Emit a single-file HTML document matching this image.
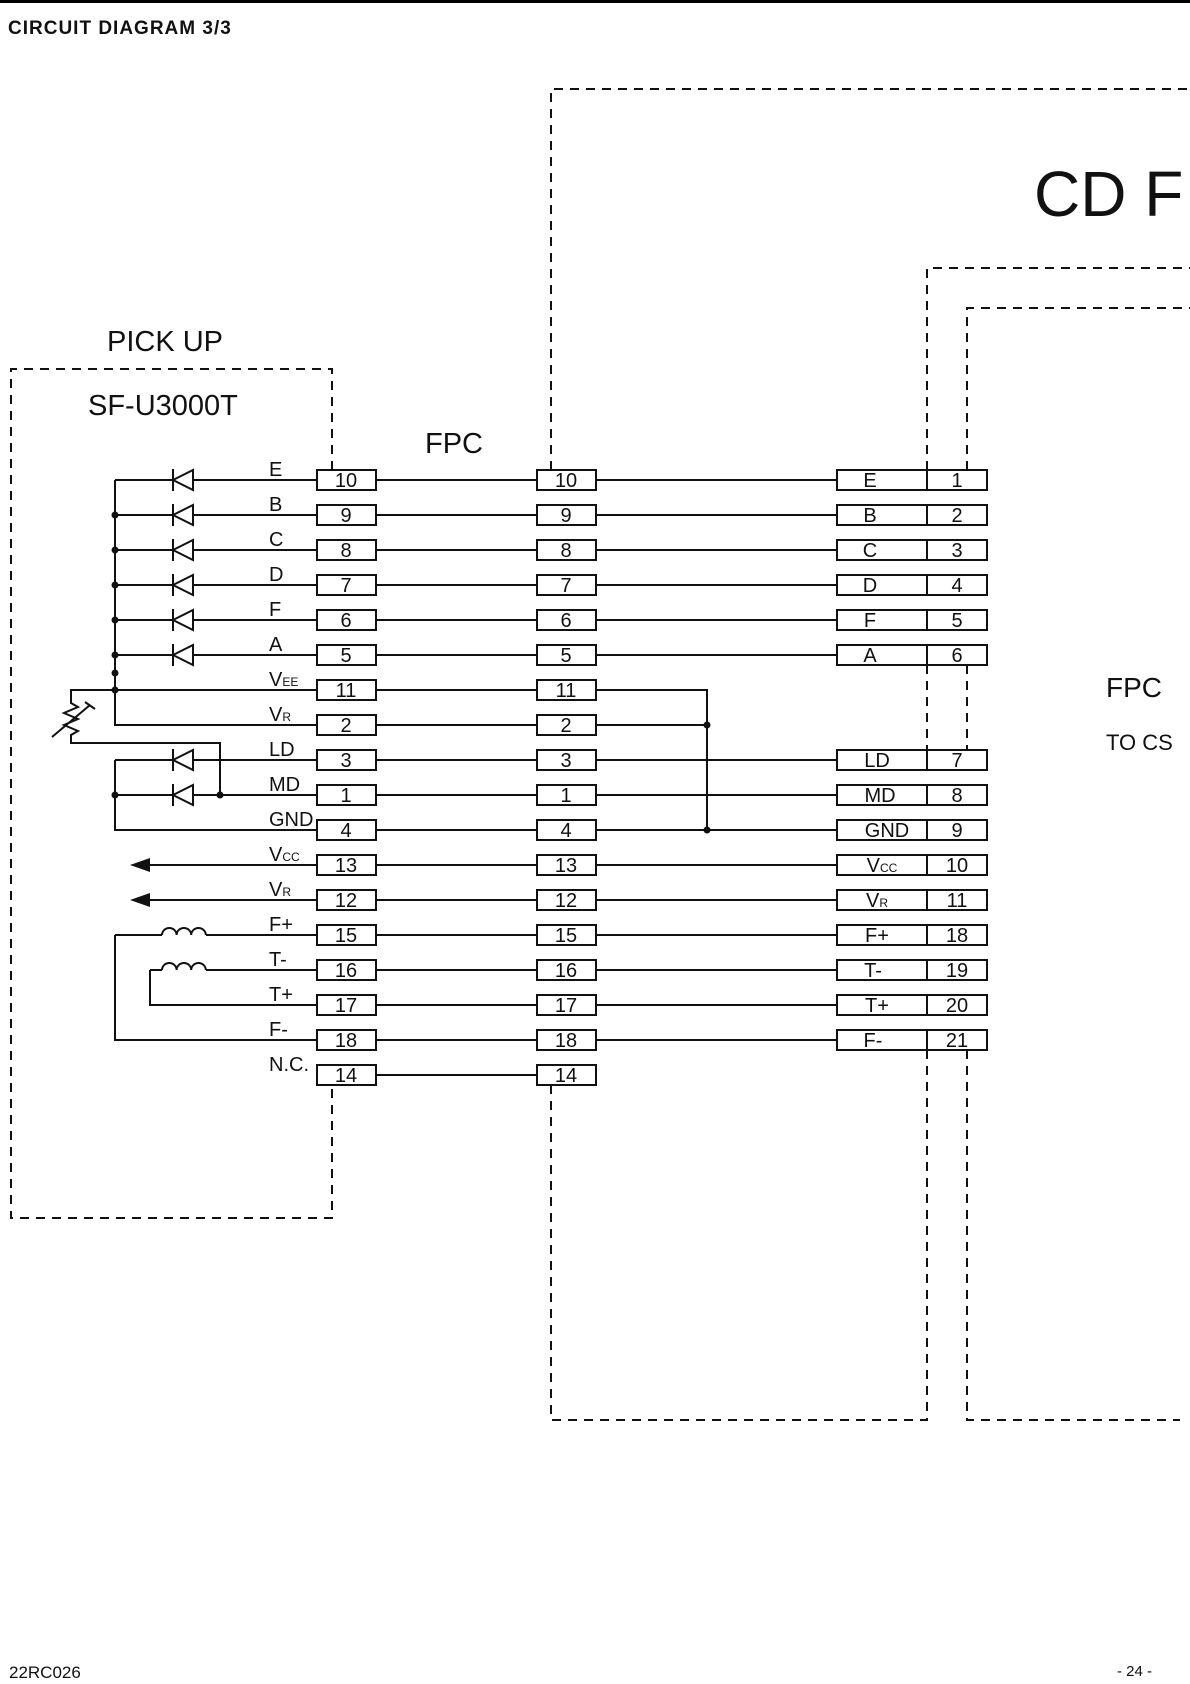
<!DOCTYPE html>
<html><head><meta charset="utf-8"><style>
html,body{margin:0;padding:0;background:#fff;}
svg{display:block;}
text{font-family:"Liberation Sans",Arial,sans-serif;fill:#111;}
.n{font-size:20px;text-anchor:middle;}
.l{font-size:20px;}
.s{font-size:12px;}
</style></head><body>
<svg width="1190" height="1684" viewBox="0 0 1190 1684" xmlns="http://www.w3.org/2000/svg">
<rect x="0" y="0" width="1190" height="1684" fill="#fff"/>
<line x1="0" y1="1.5" x2="1190" y2="1.5" stroke="#000" stroke-width="3"/>
<text x="8" y="34" style="font-size:19px;font-weight:bold;letter-spacing:1px">CIRCUIT DIAGRAM 3/3</text>
<text x="1034" y="216" style="font-size:64px">CD F</text>
<text x="107" y="351" style="font-size:29px">PICK UP</text>
<text x="88" y="415" style="font-size:29px">SF-U3000T</text>
<text x="425" y="453" style="font-size:29px">FPC</text>
<text x="1106" y="697" style="font-size:28px">FPC</text>
<text x="1106" y="750" style="font-size:22px">TO CS</text>
<text x="9" y="1678" style="font-size:17px">22RC026</text>
<text x="1117" y="1676" style="font-size:15px">- 24 -</text>

<g fill="none" stroke="#111" stroke-width="2" stroke-dasharray="9,7">
<path d="M332 470 V369 H11 V1218 H332 V1085"/>
<path d="M551 470 V89 H1190"/>
<path d="M551 1085 V1420 H927 V1050"/>
<path d="M927 470 V268 H1190"/>
<path d="M927 665 V750"/>
<path d="M967 470 V308 H1190"/>
<path d="M967 665 V750"/>
<path d="M967 1050 V1420 H1180"/>
</g>

<g stroke="#111" stroke-width="2" fill="none">
<path d="M115 480 V725 H317"/>
<path d="M115 480 H317"/>
<path d="M115 515 H317 M115 550 H317 M115 585 H317 M115 620 H317 M115 655 H317 M115 690 H317"/>
<path d="M115 690 H71 V703 L78 707 L64 713 L78 719 L64 725 L78 731 L71 735 V743 H220 V795"/>
<path d="M52 737 L90 705 M85 702 L95 709"/>
<path d="M115 760 H317 M115 760 V830 H317 M115 795 H317"/>
<path d="M140 865 H317 M140 900 H317"/>
<path d="M115 935 H162 M206 935 H317 M115 935 V1040 H317"/>
<path d="M162 935 a7.3 7 0 0 1 14.6 0 a7.3 7 0 0 1 14.6 0 a7.3 7 0 0 1 14.6 0"/>
<path d="M150 970 H162 M206 970 H317 M150 970 V1005 H317"/>
<path d="M162 970 a7.3 7 0 0 1 14.6 0 a7.3 7 0 0 1 14.6 0 a7.3 7 0 0 1 14.6 0"/>
<path d="M376 480 H537 M376 515 H537 M376 550 H537 M376 585 H537 M376 620 H537 M376 655 H537 M376 690 H537 M376 725 H537 M376 760 H537 M376 795 H537 M376 830 H537 M376 865 H537 M376 900 H537 M376 935 H537 M376 970 H537 M376 1005 H537 M376 1040 H537 M376 1075 H537"/>
<path d="M596 480 H837 M596 515 H837 M596 550 H837 M596 585 H837 M596 620 H837 M596 655 H837 M596 760 H837 M596 795 H837 M596 830 H837 M596 865 H837 M596 900 H837 M596 935 H837 M596 970 H837 M596 1005 H837 M596 1040 H837"/>
<path d="M596 690 H707 V830 M596 725 H707"/>
</g>
<g fill="#111">
<circle cx="115" cy="515" r="3.5"/><circle cx="115" cy="550" r="3.5"/><circle cx="115" cy="585" r="3.5"/><circle cx="115" cy="620" r="3.5"/><circle cx="115" cy="655" r="3.5"/><circle cx="115" cy="673" r="3.5"/><circle cx="115" cy="690" r="3.5"/><circle cx="115" cy="795" r="3.5"/><circle cx="220" cy="795" r="3.5"/><circle cx="707" cy="725" r="3.5"/><circle cx="707" cy="830" r="3.5"/>
<path d="M130 865 L150 858 L150 872 Z"/><path d="M130 900 L150 893 L150 907 Z"/>
</g>
<g stroke="#111" stroke-width="2" fill="#fff">
<path d="M173 480 L193 470 V490 Z M173 469 V491"/>
<path d="M173 515 L193 505 V525 Z M173 504 V526"/>
<path d="M173 550 L193 540 V560 Z M173 539 V561"/>
<path d="M173 585 L193 575 V595 Z M173 574 V596"/>
<path d="M173 620 L193 610 V630 Z M173 609 V631"/>
<path d="M173 655 L193 645 V665 Z M173 644 V666"/>
<path d="M173 760 L193 750 V770 Z M173 749 V771"/>
<path d="M173 795 L193 785 V805 Z M173 784 V806"/>
</g>
<g class="l">
<text x="269" y="476">E</text><text x="269" y="511">B</text><text x="269" y="546">C</text><text x="269" y="581">D</text><text x="269" y="616">F</text><text x="269" y="651">A</text>
<text x="269" y="686">V<tspan class="s">EE</tspan></text><text x="269" y="721">V<tspan class="s">R</tspan></text>
<text x="269" y="756">LD</text><text x="269" y="791">MD</text><text x="269" y="826">GND</text>
<text x="269" y="861">V<tspan class="s">CC</tspan></text><text x="269" y="896">V<tspan class="s">R</tspan></text>
<text x="269" y="931">F+</text><text x="269" y="966">T-</text><text x="269" y="1001">T+</text><text x="269" y="1036">F-</text><text x="269" y="1071">N.C.</text>
</g>
<g fill="#fff" stroke="#111" stroke-width="2">
<rect x="317" y="470" width="59" height="20"/><rect x="317" y="505" width="59" height="20"/><rect x="317" y="540" width="59" height="20"/><rect x="317" y="575" width="59" height="20"/><rect x="317" y="610" width="59" height="20"/><rect x="317" y="645" width="59" height="20"/><rect x="317" y="680" width="59" height="20"/><rect x="317" y="715" width="59" height="20"/><rect x="317" y="750" width="59" height="20"/><rect x="317" y="785" width="59" height="20"/><rect x="317" y="820" width="59" height="20"/><rect x="317" y="855" width="59" height="20"/><rect x="317" y="890" width="59" height="20"/><rect x="317" y="925" width="59" height="20"/><rect x="317" y="960" width="59" height="20"/><rect x="317" y="995" width="59" height="20"/><rect x="317" y="1030" width="59" height="20"/><rect x="317" y="1065" width="59" height="20"/>
<rect x="537" y="470" width="59" height="20"/><rect x="537" y="505" width="59" height="20"/><rect x="537" y="540" width="59" height="20"/><rect x="537" y="575" width="59" height="20"/><rect x="537" y="610" width="59" height="20"/><rect x="537" y="645" width="59" height="20"/><rect x="537" y="680" width="59" height="20"/><rect x="537" y="715" width="59" height="20"/><rect x="537" y="750" width="59" height="20"/><rect x="537" y="785" width="59" height="20"/><rect x="537" y="820" width="59" height="20"/><rect x="537" y="855" width="59" height="20"/><rect x="537" y="890" width="59" height="20"/><rect x="537" y="925" width="59" height="20"/><rect x="537" y="960" width="59" height="20"/><rect x="537" y="995" width="59" height="20"/><rect x="537" y="1030" width="59" height="20"/><rect x="537" y="1065" width="59" height="20"/>
<rect x="837" y="470" width="150" height="20"/><rect x="837" y="505" width="150" height="20"/><rect x="837" y="540" width="150" height="20"/><rect x="837" y="575" width="150" height="20"/><rect x="837" y="610" width="150" height="20"/><rect x="837" y="645" width="150" height="20"/><rect x="837" y="750" width="150" height="20"/><rect x="837" y="785" width="150" height="20"/><rect x="837" y="820" width="150" height="20"/><rect x="837" y="855" width="150" height="20"/><rect x="837" y="890" width="150" height="20"/><rect x="837" y="925" width="150" height="20"/><rect x="837" y="960" width="150" height="20"/><rect x="837" y="995" width="150" height="20"/><rect x="837" y="1030" width="150" height="20"/>
</g>
<path d="M927 470 V490 M927 505 V525 M927 540 V560 M927 575 V595 M927 610 V630 M927 645 V665 M927 750 V770 M927 785 V805 M927 820 V840 M927 855 V875 M927 890 V910 M927 925 V945 M927 960 V980 M927 995 V1015 M927 1030 V1050" stroke="#111" stroke-width="2"/>
<g class="n">
<text x="346" y="487">10</text><text x="346" y="522">9</text><text x="346" y="557">8</text><text x="346" y="592">7</text><text x="346" y="627">6</text><text x="346" y="662">5</text><text x="346" y="697">11</text><text x="346" y="732">2</text><text x="346" y="767">3</text><text x="346" y="802">1</text><text x="346" y="837">4</text><text x="346" y="872">13</text><text x="346" y="907">12</text><text x="346" y="942">15</text><text x="346" y="977">16</text><text x="346" y="1012">17</text><text x="346" y="1047">18</text><text x="346" y="1082">14</text>
<text x="566" y="487">10</text><text x="566" y="522">9</text><text x="566" y="557">8</text><text x="566" y="592">7</text><text x="566" y="627">6</text><text x="566" y="662">5</text><text x="566" y="697">11</text><text x="566" y="732">2</text><text x="566" y="767">3</text><text x="566" y="802">1</text><text x="566" y="837">4</text><text x="566" y="872">13</text><text x="566" y="907">12</text><text x="566" y="942">15</text><text x="566" y="977">16</text><text x="566" y="1012">17</text><text x="566" y="1047">18</text><text x="566" y="1082">14</text>
<text x="870" y="487">E</text><text x="870" y="522">B</text><text x="870" y="557">C</text><text x="870" y="592">D</text><text x="870" y="627">F</text><text x="870" y="662">A</text>
<text x="877" y="767">LD</text><text x="880" y="802">MD</text><text x="887" y="837">GND</text>
<text x="882" y="872">V<tspan class="s">CC</tspan></text><text x="877" y="907">V<tspan class="s">R</tspan></text>
<text x="877" y="942">F+</text><text x="873" y="977">T-</text><text x="877" y="1012">T+</text><text x="873" y="1047">F-</text>
<text x="957" y="487">1</text><text x="957" y="522">2</text><text x="957" y="557">3</text><text x="957" y="592">4</text><text x="957" y="627">5</text><text x="957" y="662">6</text><text x="957" y="767">7</text><text x="957" y="802">8</text><text x="957" y="837">9</text><text x="957" y="872">10</text><text x="957" y="907">11</text><text x="957" y="942">18</text><text x="957" y="977">19</text><text x="957" y="1012">20</text><text x="957" y="1047">21</text>
</g>
</svg>
</body></html>
